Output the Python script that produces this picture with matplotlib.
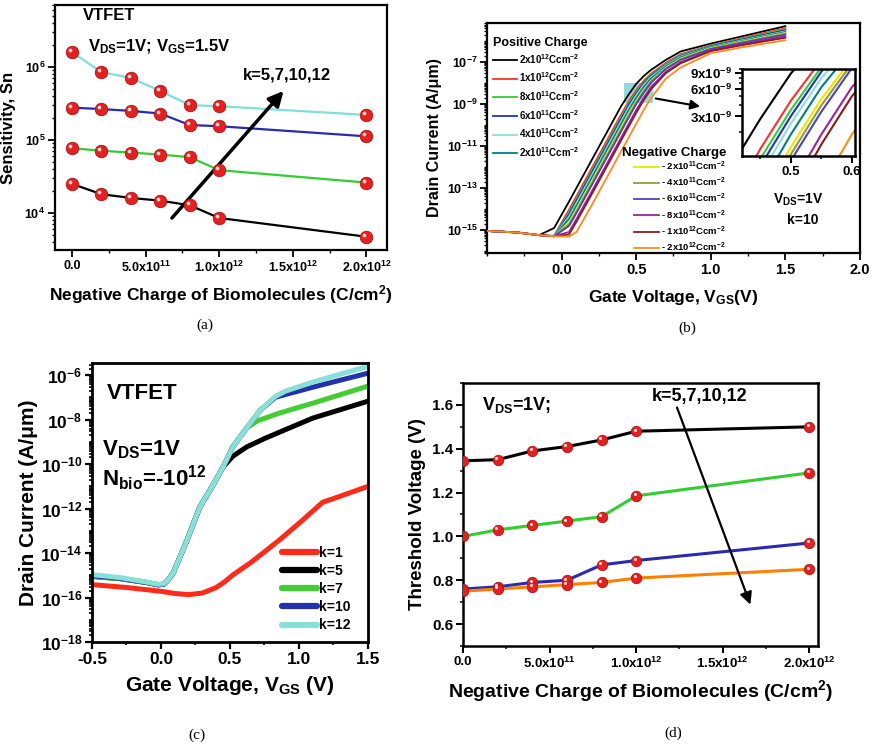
import numpy as np
import matplotlib
matplotlib.use("Agg")
import matplotlib.pyplot as plt
import matplotlib.transforms as mtransforms
from matplotlib.ticker import LogLocator, NullFormatter, MultipleLocator
from matplotlib.patches import Rectangle

plt.rcParams['font.family'] = ['Liberation Sans', 'DejaVu Sans']
plt.rcParams['font.weight'] = 'bold'
plt.rcParams['axes.labelweight'] = 'bold'
plt.rcParams['mathtext.fontset'] = 'custom'
plt.rcParams['mathtext.rm'] = 'Liberation Sans:bold'
plt.rcParams['mathtext.it'] = 'Liberation Sans:bold'
plt.rcParams['mathtext.bf'] = 'Liberation Sans:bold'
plt.rcParams['mathtext.default'] = 'bf'

# ---------------- (a) sensitivity vs negative charge ----------------
charge = [0, 2e11, 4e11, 6e11, 8e11, 1e12, 2e12]
sn_k5 = [2.5e4, 1.8e4, 1.6e4, 1.47e4, 1.27e4, 8.5e3, 4.7e3]
sn_k7 = [7.7e4, 7.1e4, 6.7e4, 6.3e4, 5.8e4, 3.85e4, 2.6e4]
sn_k10 = [2.77e5, 2.65e5, 2.5e5, 2.3e5, 1.6e5, 1.54e5, 1.12e5]
sn_k12 = [1.6e6, 8.5e5, 7.1e5, 4.7e5, 3.0e5, 2.9e5, 2.2e5]

charge_ticks = [0, 5e11, 1e12, 1.5e12, 2e12]
charge_labels = ['0.0', r'5.0x10$^{11}$', r'1.0x10$^{12}$', r'1.5x10$^{12}$', r'2.0x10$^{12}$']
sn_ticks = [1e4, 1e5, 1e6]
sn_labels = [r'10$^{4}$', r'10$^{5}$', r'10$^{6}$']

# ---------------- (b) transfer curves, k=10, various charges (log10 of A/um) ----------------
vgs_b = [-0.5, -0.3, -0.15, -0.05, 0.05, 0.1, 0.2, 0.3, 0.4, 0.45, 0.5, 0.55, 0.6, 0.7, 0.8, 1.0, 1.2, 1.5]
b_pos_2e12 = [-15.05, -15.12, -15.25, -14.91, -13.65, -13.0, -11.7, -10.4, -9.1, -8.55, -8.05, -7.68, -7.38, -6.9, -6.5, -6.13, -5.8, -5.3]
b_pos_1e12 = [-15.05, -15.12, -15.25, -15.28, -14.04, -13.39, -12.09, -10.79, -9.49, -8.88, -8.35, -7.90, -7.56, -7.04, -6.63, -6.21, -5.88, -5.40]
b_pos_8e11 = [-15.05, -15.12, -15.25, -15.3, -14.17, -13.52, -12.22, -10.92, -9.62, -8.99, -8.45, -7.98, -7.62, -7.09, -6.67, -6.23, -5.91, -5.45]
b_pos_6e11 = [-15.05, -15.12, -15.25, -15.3, -14.26, -13.61, -12.31, -11.01, -9.71, -9.07, -8.52, -8.03, -7.66, -7.13, -6.71, -6.26, -5.95, -5.50]
b_pos_4e11 = [-15.05, -15.12, -15.25, -15.3, -14.36, -13.72, -12.42, -11.12, -9.82, -9.17, -8.60, -8.10, -7.72, -7.16, -6.74, -6.29, -5.99, -5.55]
b_pos_2e11 = [-15.05, -15.12, -15.25, -15.3, -14.48, -13.85, -12.55, -11.25, -9.95, -9.30, -8.72, -8.20, -7.79, -7.21, -6.78, -6.31, -6.02, -5.58]
b_neg_2e11 = [-15.05, -15.12, -15.25, -15.3, -14.64, -14.01, -12.71, -11.41, -10.11, -9.46, -8.86, -8.33, -7.89, -7.27, -6.83, -6.34, -6.05, -5.62]
b_neg_4e11 = [-15.05, -15.12, -15.25, -15.3, -14.73, -14.11, -12.81, -11.51, -10.21, -9.56, -8.94, -8.40, -7.94, -7.31, -6.87, -6.37, -6.08, -5.66]
b_neg_6e11 = [-15.05, -15.12, -15.25, -15.3, -14.81, -14.20, -12.90, -11.60, -10.30, -9.65, -9.01, -8.47, -7.99, -7.34, -6.90, -6.39, -6.11, -5.70]
b_neg_8e11 = [-15.05, -15.12, -15.25, -15.3, -15.10, -14.48, -13.20, -11.90, -10.60, -9.95, -9.30, -8.72, -8.20, -7.47, -7.01, -6.45, -6.17, -5.78]
b_neg_1e12 = [-15.05, -15.12, -15.25, -15.3, -15.22, -14.61, -13.33, -12.03, -10.73, -10.08, -9.43, -8.83, -8.30, -7.53, -7.06, -6.49, -6.22, -5.85]
b_neg_2e12 = [-15.05, -15.12, -15.25, -15.3, -15.32, -15.10, -13.85, -12.55, -11.25, -10.60, -9.95, -9.30, -8.72, -7.79, -7.26, -6.59, -6.32, -5.97]

pos_labels = [r'2x10$^{12}$Ccm$^{-2}$', r'1x10$^{12}$Ccm$^{-2}$', r'8x10$^{11}$Ccm$^{-2}$',
              r'6x10$^{11}$Ccm$^{-2}$', r'4x10$^{11}$Ccm$^{-2}$', r'2x10$^{11}$Ccm$^{-2}$']
neg_labels = [r'- 2x10$^{11}$Ccm$^{-2}$', r'- 4x10$^{11}$Ccm$^{-2}$', r'- 6x10$^{11}$Ccm$^{-2}$',
              r'- 8x10$^{11}$Ccm$^{-2}$', r'- 1x10$^{12}$Ccm$^{-2}$', r'- 2x10$^{12}$Ccm$^{-2}$']
pos_colors = ['#000000', '#ff3030', '#33cc33', '#2233bb', '#88e0e0', '#008080']
neg_colors = ['#e8e800', '#9a9a30', '#4444cc', '#a020a0', '#8b1a1a', '#ff8a1e']

b_yticks = [1e-15, 1e-13, 1e-11, 1e-9, 1e-7]
b_ylabels = [r'10$^{-15}$', r'10$^{-13}$', r'10$^{-11}$', r'10$^{-9}$', r'10$^{-7}$']
inset_yticks = [3e-9, 6e-9, 9e-9]
inset_ylabels = [r'3x10$^{-9}$', r'6x10$^{-9}$', r'9x10$^{-9}$']

# ---------------- (c) transfer curves for different k (log10 of A/um) ----------------
c_k1_v = [-0.5, -0.25, 0.0, 0.1, 0.2, 0.3, 0.4, 0.46, 0.52, 0.65, 0.77, 0.88, 1.03, 1.17, 1.25, 1.5]
c_k1 = [-15.42, -15.55, -15.72, -15.82, -15.87, -15.8, -15.55, -15.3, -14.99, -14.43, -13.85, -13.3, -12.5, -11.72, -11.55, -11.0]
c_k5_v = [-0.5, -0.3, -0.1, -0.02, 0.02, 0.05, 0.09, 0.19, 0.28, 0.37, 0.45, 0.52, 0.62, 0.75, 0.86, 1.1, 1.5]
c_k5 = [-15.05, -15.15, -15.33, -15.43, -15.4, -15.22, -14.88, -13.4, -11.95, -11.02, -10.13, -9.65, -9.23, -8.85, -8.56, -7.93, -7.17]
c_k7_v = [-0.5, -0.3, -0.1, -0.02, 0.02, 0.05, 0.09, 0.19, 0.28, 0.37, 0.45, 0.52, 0.62, 0.7, 0.86, 1.1, 1.5]
c_k7 = [-15.05, -15.15, -15.33, -15.43, -15.4, -15.22, -14.88, -13.4, -11.95, -11.02, -10.13, -9.23, -8.38, -8.05, -7.70, -7.26, -6.49]
c_k10_v = [-0.5, -0.3, -0.1, -0.02, 0.02, 0.05, 0.09, 0.19, 0.28, 0.37, 0.45, 0.52, 0.62, 0.72, 0.83, 1.1, 1.5]
c_k10 = [-15.02, -15.13, -15.33, -15.43, -15.4, -15.22, -14.88, -13.4, -11.95, -11.02, -10.13, -9.23, -8.38, -7.57, -6.99, -6.54, -5.91]
c_k12_v = [-0.5, -0.3, -0.1, -0.02, 0.02, 0.05, 0.09, 0.19, 0.28, 0.37, 0.45, 0.52, 0.62, 0.72, 0.83, 0.9, 1.1, 1.5]
c_k12 = [-14.97, -15.1, -15.31, -15.41, -15.38, -15.22, -14.88, -13.4, -11.95, -11.02, -10.13, -9.23, -8.38, -7.57, -6.95, -6.72, -6.31, -5.6]
c_labels = ['k=1', 'k=5', 'k=7', 'k=10', 'k=12']
c_colors = ['#ff2a1a', '#000000', '#44cc33', '#2233aa', '#88e0d8']
c_yticks = [1e-18, 1e-16, 1e-14, 1e-12, 1e-10, 1e-8, 1e-6]
c_ylabels = [r'10$^{-18}$', r'10$^{-16}$', r'10$^{-14}$', r'10$^{-12}$', r'10$^{-10}$', r'10$^{-8}$', r'10$^{-6}$']

# ---------------- (d) threshold voltage ----------------
vth_k5 = [1.345, 1.35, 1.39, 1.41, 1.44, 1.48, 1.50]
vth_k7 = [1.0, 1.03, 1.05, 1.07, 1.09, 1.185, 1.29]
vth_k10 = [0.76, 0.77, 0.79, 0.80, 0.87, 0.89, 0.97]
vth_k12 = [0.75, 0.76, 0.77, 0.78, 0.79, 0.81, 0.85]

fig = plt.figure(figsize=(8.71, 7.47), dpi=100)
ax_a = fig.add_axes([0.0631, 0.6653, 0.3812, 0.328])
ax_b = fig.add_axes([0.5591, 0.6613, 0.4282, 0.3079])
ax_c = fig.add_axes([0.1056, 0.1406, 0.3169, 0.3735])
ax_d = fig.add_axes([0.5316, 0.1352, 0.4076, 0.3521])


def frame(ax, lw, tsize):
    for s in ax.spines.values():
        s.set_linewidth(lw)
    ax.tick_params(which='major', direction='out', length=5, width=lw * 0.8, labelsize=tsize, pad=2)
    ax.tick_params(which='minor', direction='out', length=2.5, width=lw * 0.6)


def log_minor(axis):
    axis.set_minor_locator(LogLocator(base=10, subs=np.arange(1, 10), numticks=200))
    axis.set_minor_formatter(NullFormatter())


def balls(ax, x, y, ms):
    ax.plot(x, y, ls='none', marker='o', ms=ms, mfc='#e42020', mec='#b01414', mew=0.6, zorder=4)
    hl = mtransforms.offset_copy(ax.transData, fig=fig, x=-ms * 0.15, y=ms * 0.15, units='points')
    ax.plot(x, y, ls='none', marker='o', ms=ms * 0.3, mfc='#ffd8d8', mec='none', transform=hl, zorder=5)


# ---- (a)
ax = ax_a
for vals, col in [(sn_k5, 'black'), (sn_k7, '#33cc33'), (sn_k10, '#2a2ab0'), (sn_k12, '#80dfd8')]:
    ax.plot(charge, vals, color=col, lw=1.6, zorder=3)
    balls(ax, charge, vals, 9)
ax.set_yscale('log')
ax.set_xlim(-0.115e12, 2.14e12)
ax.set_ylim(10 ** 3.49, 10 ** 6.85)
ax.set_yticks(sn_ticks, sn_labels)
log_minor(ax.yaxis)
ax.set_xticks(charge_ticks, charge_labels)
ax.xaxis.set_minor_locator(MultipleLocator(2.5e11))
frame(ax, 1.6, 9)
ax.set_ylabel('Sensitivity, Sn', fontsize=12, labelpad=6)
ax.set_xlabel(r'Negative Charge of Biomolecules (C/cm$^{2}$)', fontsize=12.5, labelpad=6)
ax.text(0.084, 0.959, 'VTFET', transform=ax.transAxes, fontsize=12, va='center')
ax.text(0.099, 0.829, r'V$_{DS}$=1V; V$_{GS}$=1.5V', transform=ax.transAxes, fontsize=12, va='center')
ax.text(0.566, 0.714, 'k=5,7,10,12', transform=ax.transAxes, fontsize=12, va='center')
ax.annotate('', xy=(1.45e12, 10 ** 5.70), xytext=(0.667e12, 10 ** 3.9),
            arrowprops=dict(arrowstyle='-|>', lw=2.5, color='black', mutation_scale=22))

# ---- (b)
ax = ax_b
pos_curves = [b_pos_2e12, b_pos_1e12, b_pos_8e11, b_pos_6e11, b_pos_4e11, b_pos_2e11]
neg_curves = [b_neg_2e11, b_neg_4e11, b_neg_6e11, b_neg_8e11, b_neg_1e12, b_neg_2e12]
ax.add_patch(Rectangle((0.42, 1.1e-9), 0.19, 1.0e-8 - 1.1e-9, facecolor='#66cccc', alpha=0.7,
                       edgecolor='none', zorder=1))
pos_h, neg_h = [], []
for vals, col in zip(pos_curves, pos_colors):
    pos_h += ax.plot(vgs_b, 10 ** np.array(vals), color=col, lw=1.3, zorder=3)
for vals, col in zip(neg_curves, neg_colors):
    neg_h += ax.plot(vgs_b, 10 ** np.array(vals), color=col, lw=1.3, zorder=3)
ax.set_yscale('log')
ax.set_xlim(-0.5, 2.0)
ax.set_ylim(10 ** -16.1, 10 ** -5.15)
ax.set_yticks(b_yticks, b_ylabels)
log_minor(ax.yaxis)
ax.set_xticks([0.0, 0.5, 1.0, 1.5, 2.0], ['0.0', '0.5', '1.0', '1.5', '2.0'])
ax.xaxis.set_minor_locator(MultipleLocator(0.25))
frame(ax, 1.6, 9)
ax.tick_params(axis='x', labelsize=10.5)
ax.set_ylabel(r'Drain Current (A/μm)', fontsize=11.5, labelpad=3)
ax.set_xlabel(r'Gate Voltage, V$_{\mathrm{GS}}$(V)', fontsize=12.5, labelpad=8)
ax.text(0.016, 0.913, 'Positive Charge', transform=ax.transAxes, fontsize=9, va='center')
ax.text(0.362, 0.435, 'Negative Charge', transform=ax.transAxes, fontsize=9.5, va='center')
leg1 = ax.legend(pos_h, pos_labels, loc='upper left', bbox_to_anchor=(0.017, 0.875), frameon=False,
                 fontsize=7, handlelength=2.4, handletextpad=0.2, labelspacing=0.5,
                 borderpad=0, borderaxespad=0)
ax.add_artist(leg1)
ax.legend(neg_h, neg_labels, loc='upper left', bbox_to_anchor=(0.395, 0.405), frameon=False,
          fontsize=6.8, handlelength=2.6, handletextpad=0.2, labelspacing=0.3,
          borderpad=0, borderaxespad=0)
ax.text(0.834, 0.230, r'V$_{\mathrm{DS}}$=1V', transform=ax.transAxes, fontsize=10, ha='center', va='center')
ax.text(0.847, 0.143, 'k=10', transform=ax.transAxes, fontsize=10, ha='center', va='center')
ax.annotate('', xy=(0.579, 0.635), xytext=(0.445, 0.674), xycoords='axes fraction',
            arrowprops=dict(arrowstyle='-|>', lw=1.5, color='black', mutation_scale=14))

# inset of (b)
ax_in = fig.add_axes([0.8519, 0.7912, 0.1297, 0.1165])
for vals, col in zip(pos_curves + neg_curves, pos_colors + neg_colors):
    ax_in.plot(vgs_b, 10 ** np.array(vals), color=col, lw=1.5)
ax_in.set_yscale('log')
ax_in.set_xlim(0.42, 0.605)
ax_in.set_ylim(1.1e-9, 1.0e-8)
ax_in.set_yticks(inset_yticks, inset_ylabels)
ax_in.yaxis.set_minor_locator(LogLocator(base=10, subs=np.arange(1, 10), numticks=200))
ax_in.yaxis.set_minor_formatter(NullFormatter())
ax_in.set_xticks([0.5, 0.6], ['0.5', '0.6'])
ax_in.xaxis.set_minor_locator(MultipleLocator(0.05))
frame(ax_in, 1.8, 9.5)

# ---- (c)
ax = ax_c
c_sets = [(c_k1_v, c_k1), (c_k5_v, c_k5), (c_k7_v, c_k7), (c_k10_v, c_k10), (c_k12_v, c_k12)]
c_h = []
for (vv, vals), col in zip(c_sets, c_colors):
    c_h += ax.plot(vv, 10 ** np.array(vals), color=col, lw=3.6, solid_capstyle='round',
                   solid_joinstyle='round')
ax.set_yscale('log')
ax.set_xlim(-0.5, 1.5)
ax.set_ylim(1e-18, 10 ** -5.45)
ax.set_yticks(c_yticks, c_ylabels)
log_minor(ax.yaxis)
ax.set_xticks([-0.5, 0.0, 0.5, 1.0, 1.5], ['-0.5', '0.0', '0.5', '1.0', '1.5'])
ax.xaxis.set_minor_locator(MultipleLocator(0.25))
frame(ax, 2.0, 12.5)
ax.set_ylabel(r'Drain Current (A/μm)', fontsize=15, labelpad=2)
ax.set_xlabel(r'Gate Voltage, V$_{\mathrm{GS}}$ (V)', fontsize=15, labelpad=5)
ax.text(0.054, 0.892, 'VTFET', transform=ax.transAxes, fontsize=16, va='center')
ax.text(0.036, 0.688, r'V$_{DS}$=1V', transform=ax.transAxes, fontsize=16, va='center')
ax.text(0.036, 0.588, r'N$_{bio}$=-10$^{12}$', transform=ax.transAxes, fontsize=16, va='center')
leg_c = ax.legend(c_h, c_labels, loc='upper left', bbox_to_anchor=(0.69, 0.345), frameon=False,
                  fontsize=10, handlelength=2.5, handletextpad=0.1, labelspacing=0.3,
                  borderpad=0, borderaxespad=0)
for h in leg_c.get_lines():
    h.set_linewidth(4.5)

# ---- (d)
ax = ax_d
for vals, col in [(vth_k5, 'black'), (vth_k7, '#33cc33'), (vth_k10, '#2a2ab0'), (vth_k12, '#ff8000')]:
    ax.plot(charge, vals, color=col, lw=2.2, zorder=3)
    balls(ax, charge, vals, 7.5)
ax.set_xlim(0, 2.05e12)
ax.set_ylim(0.5, 1.7)
ax.set_yticks([0.6, 0.8, 1.0, 1.2, 1.4, 1.6], ['0.6', '0.8', '1.0', '1.2', '1.4', '1.6'])
ax.yaxis.set_minor_locator(MultipleLocator(0.1))
ax.set_xticks(charge_ticks, charge_labels)
ax.xaxis.set_minor_locator(MultipleLocator(2.5e11))
frame(ax, 1.8, 11)
ax.tick_params(axis='x', labelsize=9.5)
ax.set_ylabel('Threshold Voltage (V)', fontsize=13.5, labelpad=4)
ax.set_xlabel(r'Negative Charge of Biomolecules (C/cm$^{2}$)', fontsize=14, labelpad=5)
ax.text(0.054, 0.916, r'V$_{DS}$=1V;', transform=ax.transAxes, fontsize=13, va='center')
ax.text(0.532, 0.947, 'k=5,7,10,12', transform=ax.transAxes, fontsize=13, va='center')
ax.annotate('', xy=(1.665e12, 0.677), xytext=(1.23e12, 1.6),
            arrowprops=dict(arrowstyle='-|>', lw=1.6, color='black', mutation_scale=18))

# panel letters
for lab, px, py in [('(a)', 205, 325), ('(b)', 687, 328), ('(c)', 197, 735), ('(d)', 673, 733)]:
    fig.text(px / 871, 1 - py / 747, lab, ha='center', va='center', fontsize=11,
             family='Liberation Serif', weight='normal')

fig.savefig('out.png', dpi=100)
